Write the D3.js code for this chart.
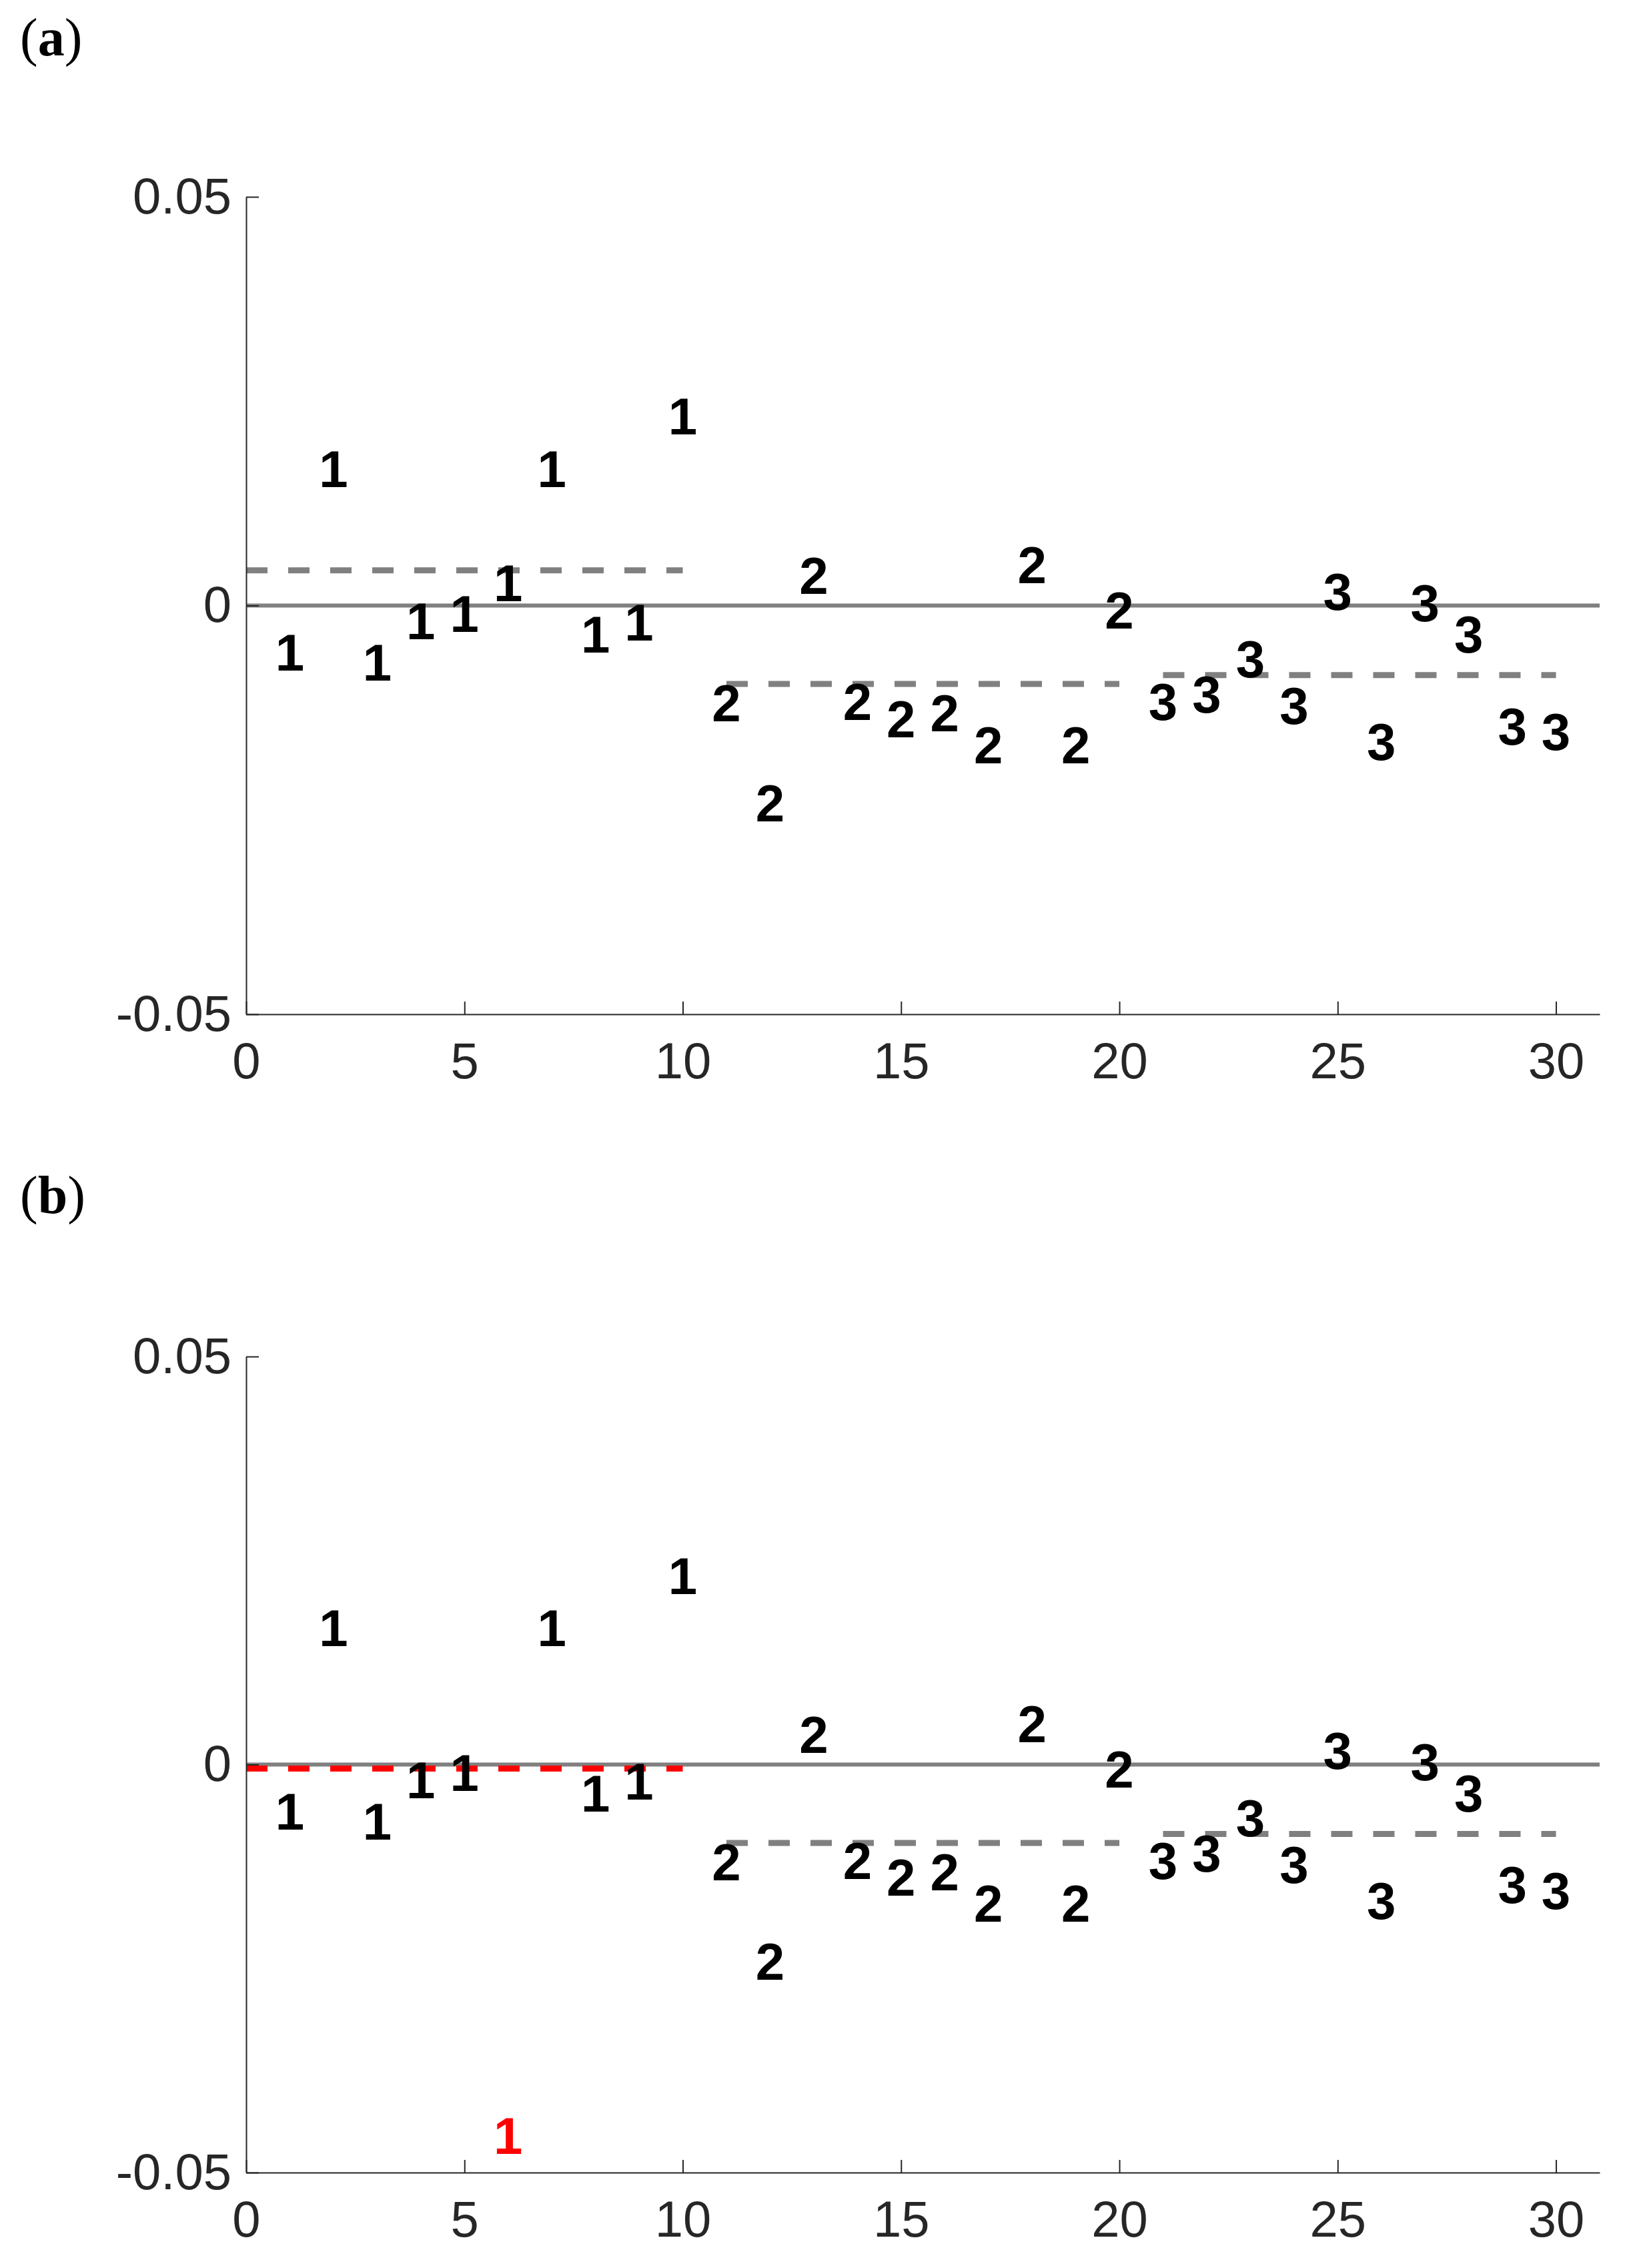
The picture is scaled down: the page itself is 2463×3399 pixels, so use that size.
<!DOCTYPE html>
<html>
<head>
<meta charset="utf-8">
<script src="https://cdn.jsdelivr.net/npm/d3@7"></script>
<style>
  body { margin: 0; background: #fff; }
  svg { display: block; }
  .tick text { font-family: "Liberation Sans", Arial, sans-serif; fill: #262626; }
</style>
</head>
<body>
<div id="chart"></div>
<script>
// Data
const obsIndex = [1, 2, 3, 4, 5, 6, 7, 8, 9, 10,
                  11, 12, 13, 14, 15, 16, 17, 18, 19, 20,
                  21, 22, 23, 24, 25, 26, 27, 28, 29, 30];
const obsGroup = ['1', '1', '1', '1', '1', '1', '1', '1', '1', '1',
                  '2', '2', '2', '2', '2', '2', '2', '2', '2', '2',
                  '3', '3', '3', '3', '3', '3', '3', '3', '3', '3'];

// panel (a) residuals
const residA = [-0.0057, 0.0168, -0.0069, -0.0018, -0.0009, 0.0028, 0.0168, -0.0035, -0.0020, 0.0232,
                -0.0119, -0.0241, 0.0037, -0.0117, -0.0138, -0.0131, -0.0170, 0.0050, -0.0170, -0.0005,
                -0.0117, -0.0108, -0.0065, -0.0122, 0.0018, -0.0166, 0.0004, -0.0035, -0.0147, -0.0154];
// panel (b): observation 6 is perturbed
const residB = [-0.0057, 0.0168, -0.0069, -0.0018, -0.0009, -0.0454, 0.0168, -0.0035, -0.0020, 0.0232,
                -0.0119, -0.0241, 0.0037, -0.0117, -0.0138, -0.0131, -0.0170, 0.0050, -0.0170, -0.0005,
                -0.0117, -0.0108, -0.0065, -0.0122, 0.0018, -0.0166, 0.0004, -0.0035, -0.0147, -0.0154];
const highlightB = [6];

// group means (dashed lines)
const groupStart = [0, 11, 21];
const groupEnd = [10, 20, 30];
const groupMeanA = [0.0043, -0.0096, -0.0085];
const groupMeanB = [-0.0005, -0.0096, -0.0085];
const highlightGroupB = [0];

const xTicks = [0, 5, 10, 15, 20, 25, 30];
const yTicks = [-0.05, 0, 0.05];
const xDomain = [0, 31];
const yDomain = [-0.05, 0.05];

const W = 2463, H = 3399;
const svg = d3.select('#chart').append('svg')
    .attr('width', W)
    .attr('height', H);

svg.append('rect').attr('width', W).attr('height', H).attr('fill', '#fff');

const x = d3.scaleLinear().domain(xDomain).range([369, 2398]);

function drawPanel(opts) {
    const y = d3.scaleLinear().domain(yDomain).range([opts.bottom, opts.top]);
    const g = svg.append('g');

    // panel letter
    const lab = g.append('text')
        .attr('x', 30)
        .attr('y', opts.letterY)
        .attr('font-family', '"Liberation Serif", "Times New Roman", serif')
        .attr('font-size', 80)
        .attr('fill', '#000');
    lab.append('tspan').text('(');
    lab.append('tspan').attr('font-weight', 'bold').text(opts.letter);
    lab.append('tspan').text(')');

    // zero reference
    g.append('line')
        .attr('x1', x(xDomain[0])).attr('x2', x(xDomain[1]))
        .attr('y1', y(0)).attr('y2', y(0))
        .attr('stroke', '#808080')
        .attr('stroke-width', 6);

    // group means
    groupStart.forEach((s, i) => {
        g.append('line')
            .attr('x1', x(s)).attr('x2', x(groupEnd[i]))
            .attr('y1', y(opts.means[i])).attr('y2', y(opts.means[i]))
            .attr('stroke', opts.redGroups.includes(i) ? '#ff0000' : '#808080')
            .attr('stroke-width', 9)
            .attr('stroke-dasharray', '32,31');
    });

    // axes
    const xAxis = d3.axisBottom(x)
        .tickValues(xTicks)
        .tickSizeInner(-19)
        .tickSizeOuter(0)
        .tickPadding(42)
        .tickFormat(d3.format('d'));
    const yAxis = d3.axisLeft(y)
        .tickValues(yTicks)
        .tickSizeInner(-19)
        .tickSizeOuter(0)
        .tickPadding(22)
        .tickFormat(d => d === 0 ? '0' : (d < 0 ? '-' : '') + Math.abs(d).toFixed(2));

    const gx = g.append('g')
        .attr('transform', `translate(0,${opts.bottom})`)
        .call(xAxis);
    const gy = g.append('g')
        .attr('transform', `translate(${x(0)},0)`)
        .call(yAxis);

    [gx, gy].forEach(a => {
        a.select('.domain').attr('stroke', '#262626').attr('stroke-width', 2);
        a.selectAll('.tick line').attr('stroke', '#262626').attr('stroke-width', 2);
        a.selectAll('.tick text').attr('font-size', 76).attr('fill', '#262626');
    });
    gx.selectAll('.tick text').attr('dy', '0.71em');

    // residual labels
    g.selectAll('text.pt')
        .data(obsIndex.map((d, i) => ({ x: d, y: opts.values[i], label: obsGroup[i] })))
        .enter()
        .append('text')
        .attr('class', 'pt')
        .attr('x', d => x(d.x))
        .attr('y', d => y(d.y))
        .attr('dy', '0.36em')
        .attr('text-anchor', 'middle')
        .attr('font-family', '"Liberation Sans", Arial, sans-serif')
        .attr('font-weight', 'bold')
        .attr('font-size', 78)
        .attr('fill', d => opts.redPoints.includes(d.x) ? '#ff0000' : '#000')
        .text(d => d.label);
}

drawPanel({ letter: 'a', letterY: 83, top: 295, bottom: 1520, values: residA, means: groupMeanA, redPoints: [], redGroups: [] });
drawPanel({ letter: 'b', letterY: 1818, top: 2033, bottom: 3256, values: residB, means: groupMeanB, redPoints: highlightB, redGroups: highlightGroupB });
</script>
</body>
</html>
